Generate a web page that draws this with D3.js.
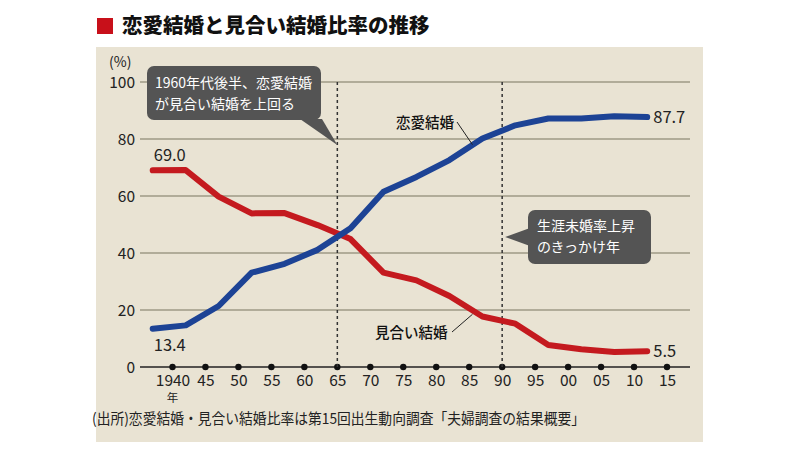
<!DOCTYPE html>
<html><head><meta charset="utf-8">
<script src="https://cdn.jsdelivr.net/npm/d3@7"></script>
<style>
body{margin:0;background:#fff;}
text{font-family:"Noto Sans CJK JP","Noto Sans",sans-serif;}
</style></head>
<body><svg id="c" width="800" height="456"></svg>
<script>
const years = [1937,1942,1947,1952,1957,1962,1967,1972,1977,1982,1987,1992,1997,2002,2007,2012];
const renai = [13.4,14.6,21.4,33.1,36.2,41.1,48.7,61.5,66.7,72.6,80.2,84.8,87.2,87.2,88.0,87.7];
const miai = [69.0,69.1,59.8,53.9,54.0,49.8,44.9,33.1,30.4,24.9,17.7,15.2,7.7,6.2,5.3,5.5];
const xTicks = [1940,1945,1950,1955,1960,1965,1970,1975,1980,1985,1990,1995,2000,2005,2010,2015];
const xTickLabels = ["1940","45","50","55","60","65","70","75","80","85","90","95","00","05","10","15"];
const yTicks = [0,20,40,60,80,100];
const markYears = [1965,1990];

const svg = d3.select("#c");
svg.append("rect").attr("x",96).attr("y",47).attr("width",607).attr("height",395).attr("fill","#e9e3d3");
// title
svg.append("rect").attr("x",97).attr("y",18).attr("width",16).attr("height",16).attr("fill","#c8101a");
svg.append("text").attr("x",122).attr("y",33).attr("font-size",20.5).attr("font-weight",900).attr("fill","#111")
  .text("恋愛結婚と見合い結婚比率の推移");

const x = d3.scaleLinear().domain([1940,2015]).range([172.5,667]);
const y = d3.scaleLinear().domain([0,100]).range([367,82]);

// grid
const gx0 = 140, gx1 = 690;
svg.append("g").selectAll("line").data(yTicks.filter(d=>d>0)).join("line")
  .attr("x1",gx0).attr("x2",gx1).attr("y1",d=>y(d)).attr("y2",d=>y(d))
  .attr("stroke","#9e9a86").attr("stroke-width",1.3);
// y axis labels
const yAxis = d3.axisLeft(y).tickValues(yTicks).tickSize(0).tickPadding(0);
const yg = svg.append("g").attr("transform","translate(135,0)").call(yAxis);
yg.select(".domain").remove();
yg.selectAll("text").attr("font-size",15.5).attr("fill","#222").attr("font-family","Liberation Sans, Arial, sans-serif").attr("dy","0.35em");
svg.append("text").attr("x",109).attr("y",67).attr("font-size",14).attr("fill","#222")
  .attr("font-family","Liberation Sans, Arial, sans-serif").text("(%)");

// baseline
svg.append("line").attr("x1",gx0).attr("x2",gx1).attr("y1",y(0)).attr("y2",y(0)).attr("stroke","#222").attr("stroke-width",1.3);
// x axis
const xAxis = d3.axisBottom(x).tickValues(xTicks).tickSize(0).tickPadding(8).tickFormat((d,i)=>xTickLabels[i]);
const xg = svg.append("g").attr("transform",`translate(0,${y(0)})`).call(xAxis);
xg.select(".domain").remove();
xg.selectAll("text").attr("font-size",15.5).attr("fill","#222").attr("font-family","Liberation Sans, Arial, sans-serif");
// "年" under the first tick label
svg.append("text").attr("x",x(1940)).attr("y",402).attr("text-anchor","middle").attr("font-size",11.5)
  .attr("fill","#222").text("年");
svg.append("g").selectAll("circle").data(xTicks).join("circle")
  .attr("cx",d=>x(d)).attr("cy",y(0)).attr("r",3.2).attr("fill","#111");

// dotted verticals
svg.append("g").selectAll("line").data(markYears).join("line")
  .attr("x1",d=>x(d)).attr("x2",d=>x(d)).attr("y1",y(100)).attr("y2",y(0))
  .attr("stroke","#333").attr("stroke-width",1.5).attr("stroke-dasharray","3,3");

// lines
const line = d3.line().x((d,i)=>x(years[i])).y(d=>y(d));
svg.append("path").datum(miai).attr("d",line).attr("fill","none").attr("stroke","#c41a1f")
  .attr("stroke-width",6).attr("stroke-linecap","round").attr("stroke-linejoin","round");
svg.append("path").datum(renai).attr("d",line).attr("fill","none").attr("stroke","#1d4395")
  .attr("stroke-width",6).attr("stroke-linecap","round").attr("stroke-linejoin","round");

// value labels
const nf = d3.format(".1f");
const vlab = (xx,yy,t,anchor)=>svg.append("text").attr("x",xx).attr("y",yy).attr("text-anchor",anchor||"start")
  .attr("font-size",16.5).attr("fill","#222").attr("font-family","Liberation Sans, Arial, sans-serif").text(t);
vlab(x(years[0])+1, y(miai[0])-9, nf(miai[0]));
vlab(x(years[0])+1, y(renai[0])+22, nf(renai[0]));
vlab(x(years[15])+6, y(renai[15])+6, nf(renai[15]));
vlab(x(years[15])+6, y(miai[15])+6, nf(miai[15]));

// series labels
svg.append("text").attr("x",396).attr("y",128).attr("font-size",14.5).attr("fill","#111").attr("font-weight",500).text("恋愛結婚");
svg.append("line").attr("x1",457).attr("y1",122).attr("x2",x(1985.5)).attr("y2",y(78)).attr("stroke","#222").attr("stroke-width",1);
svg.append("text").attr("x",375).attr("y",338).attr("font-size",14.5).attr("fill","#111").attr("font-weight",500).text("見合い結婚");
svg.append("line").attr("x1",452).attr("y1",332).attr("x2",x(1985.5)).attr("y2",y(18.5)).attr("stroke","#222").attr("stroke-width",1);

// callouts
const cb = "#545454";
function callout(lines, tx, ty){
  lines.forEach((s,i)=>svg.append("text").attr("x",tx).attr("y",ty+i*20.5)
    .attr("font-size",14).attr("fill","#fff").text(s));
}
svg.append("rect").attr("x",147).attr("y",66).attr("width",174).attr("height",54).attr("rx",7).attr("fill",cb);
svg.append("path").attr("d",`M300,119 L322,119 L${x(1965)},145 Z`).attr("fill",cb);
callout(["1960年代後半、恋愛結婚","が見合い結婚を上回る"],155,88);

svg.append("rect").attr("x",528).attr("y",210).attr("width",123).attr("height",54).attr("rx",7).attr("fill",cb);
svg.append("path").attr("d",`M530,228 L530,246 L${x(1990)+3},237 Z`).attr("fill",cb);
callout(["生涯未婚率上昇","のきっかけ年"],537,231);

// footer
svg.append("text").attr("x",92).attr("y",424).attr("font-size",15).attr("fill","#222")
  .attr("textLength",493).attr("lengthAdjust","spacingAndGlyphs")
  .text("(出所)恋愛結婚・見合い結婚比率は第15回出生動向調査「夫婦調査の結果概要」");
</script></body></html>
